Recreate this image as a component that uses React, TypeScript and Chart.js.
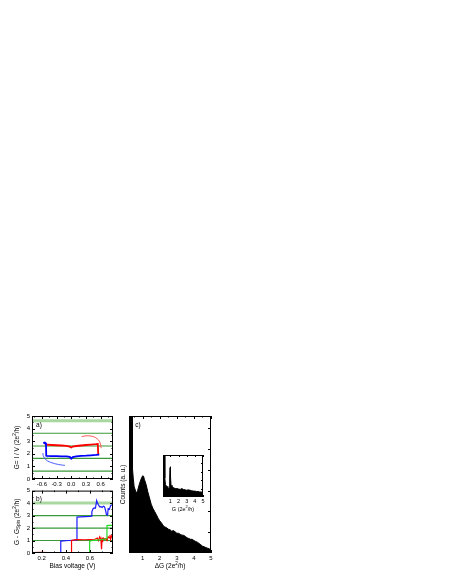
import React, { useEffect, useRef } from "react";
import { Chart, registerables } from "chart.js";
Chart.register(...registerables);

const FONT = "'Liberation Sans', Arial, Helvetica, sans-serif";

// ---------- Panel a ----------
const aXTicks = [-0.6, -0.3, 0, 0.3, 0.6];
const aXMinor = [-0.75, -0.45, -0.15, 0.15, 0.45, 0.75];
const aYTicks = [0, 1, 2, 3, 4, 5];
const aYMinor = [0.5, 1.5, 2.5, 3.5, 4.5];
const aGreenLevels = [0.63, 1.64, 2.62, 3.63];
const aGreenLight = [4.63];
const aRedX = [-0.54, -0.5, -0.4, -0.3, -0.2, -0.1, -0.03, 0.0, 0.03, 0.1, 0.2, 0.3, 0.4, 0.5, 0.54, 0.55];
const aRedY = [2.78, 2.72, 2.7, 2.68, 2.66, 2.63, 2.57, 2.5, 2.58, 2.62, 2.66, 2.7, 2.73, 2.76, 2.78, 1.9];
const aRedArcX = [0.21, 0.28, 0.36, 0.44, 0.5, 0.55, 0.58, 0.6, 0.61];
const aRedArcY = [3.36, 3.42, 3.43, 3.38, 3.28, 3.12, 2.95, 2.7, 2.45];
const aBlueX = [-0.57, -0.54, -0.515, -0.51, -0.5, -0.4, -0.3, -0.2, -0.1, -0.03, 0.0, 0.03, 0.1, 0.2, 0.3, 0.4, 0.5, 0.57];
const aBlueY = [2.85, 2.9, 2.82, 1.85, 1.83, 1.82, 1.81, 1.8, 1.8, 1.76, 1.62, 1.74, 1.8, 1.83, 1.85, 1.88, 1.91, 1.94];
const aBlueArcX = [-0.58, -0.57, -0.54, -0.49, -0.42, -0.34, -0.26, -0.18, -0.13];
const aBlueArcY = [2.05, 1.85, 1.62, 1.45, 1.32, 1.22, 1.15, 1.1, 1.08];

// ---------- Panel b ----------
const bXTicks = [0.2, 0.4, 0.6];
const bXMinor = [0.3, 0.5, 0.7];
const bGreenLevels = [1, 2, 3];
const bGreenLight = [4];
const bBlueX = [0.12, 0.2, 0.3, 0.355, 0.358, 0.38, 0.42, 0.46, 0.49, 0.492, 0.52, 0.56, 0.6, 0.61, 0.615, 0.625, 0.635, 0.645, 0.655, 0.66, 0.67, 0.68, 0.69, 0.7, 0.71, 0.72, 0.73, 0.735, 0.745, 0.75, 0.76, 0.77, 0.78, 0.79];
const bBlueY = [0.02, 0.02, 0.03, 0.03, 0.95, 0.97, 1.0, 1.02, 1.03, 2.88, 2.9, 2.92, 2.93, 2.95, 3.3, 3.55, 3.62, 3.6, 4.2, 4.05, 3.85, 3.7, 3.72, 3.65, 3.75, 3.7, 3.35, 3.1, 3.05, 3.55, 3.5, 3.8, 3.85, 3.9];
const bRedX = [0.12, 0.2, 0.3, 0.4, 0.445, 0.447, 0.47, 0.5, 0.55, 0.6, 0.64, 0.66, 0.67, 0.68, 0.69, 0.695, 0.7, 0.705, 0.71, 0.72, 0.73, 0.74, 0.75, 0.76, 0.765, 0.77, 0.78, 0.79];
const bRedY = [0.03, 0.05, 0.02, 0.04, 0.03, 1.0, 1.05, 1.07, 1.06, 1.08, 1.1, 1.2, 1.0, 1.3, 1.1, 0.3, 1.15, 1.05, 1.2, 1.1, 1.15, 1.0, 1.3, 1.2, 1.45, 1.1, 1.4, 1.2];
const bGreenX = [0.12, 0.3, 0.5, 0.595, 0.597, 0.62, 0.65, 0.68, 0.7, 0.72, 0.738, 0.74, 0.76, 0.79];
const bGreenY = [0.0, 0.0, 0.01, 0.01, 0.95, 1.0, 1.03, 1.05, 1.08, 1.12, 1.15, 2.2, 2.22, 2.22];

// ---------- Panel c (histogram) ----------
const cXTicks = [1, 2, 3, 4, 5];
const cXMinor = [0.5, 1.5, 2.5, 3.5, 4.5];
const cYTicks = [1, 2, 3, 4, 5, 6];
const cHistX = [0.2, 0.3, 0.38, 0.4, 0.45, 0.5, 0.6, 0.65, 0.7, 0.8, 0.9, 1.0, 1.05, 1.1, 1.2, 1.3, 1.4, 1.5, 1.6, 1.7, 1.8, 1.9, 2.0, 2.1, 2.2, 2.3, 2.4, 2.5, 2.6, 2.7, 2.8, 2.9, 3.0, 3.1, 3.2, 3.3, 3.4, 3.5, 3.6, 3.7, 3.8, 3.9, 4.0, 4.1, 4.2, 4.3, 4.4, 4.5, 4.6, 4.7, 4.8, 4.9, 5.0];
const cHistY = [9, 9, 9, 4.1, 3.6, 3.2, 2.95, 2.9, 3.0, 3.3, 3.55, 3.72, 3.7, 3.55, 3.3, 2.95, 2.65, 2.35, 2.15, 2.0, 1.85, 1.68, 1.55, 1.45, 1.32, 1.25, 1.22, 1.15, 1.12, 1.05, 1.08, 1.02, 0.95, 0.95, 0.9, 0.86, 0.85, 0.8, 0.73, 0.7, 0.66, 0.66, 0.6, 0.56, 0.52, 0.46, 0.4, 0.33, 0.3, 0.26, 0.23, 0.2, 0.13];

// ---------- Inset ----------
const dXTicks = [1, 2, 3, 4, 5];
const dXMinor = [0.5, 1.5, 2.5, 3.5, 4.5];
const dYTicks = [0.2, 0.4, 0.6, 0.8];
const dHistX = [0.1, 0.3, 0.32, 0.4, 0.5, 0.6, 0.7, 0.8, 0.88, 0.92, 0.97, 1.0, 1.03, 1.08, 1.2, 1.4, 1.6, 1.8, 2.0, 2.2, 2.4, 2.6, 2.8, 3.0, 3.2, 3.4, 3.6, 3.8, 4.0, 4.2, 4.4, 4.6, 4.8, 5.0];
const dHistY = [1.2, 1.2, 0.45, 0.3, 0.27, 0.25, 0.22, 0.2, 0.22, 0.45, 0.7, 0.72, 0.5, 0.28, 0.25, 0.22, 0.2, 0.2, 0.19, 0.18, 0.2, 0.18, 0.17, 0.16, 0.17, 0.16, 0.15, 0.14, 0.14, 0.13, 0.13, 0.12, 0.12, 0.11];

// ---------- Texts ----------
type Part = { t: string; s?: "sup" | "sub" };
const aYTitle: Part[] = [{ t: "G= I / V (2e" }, { t: "2", s: "sup" }, { t: "/h)" }];
const bYTitle: Part[] = [{ t: "G - G" }, { t: "Spin", s: "sub" }, { t: " (2e" }, { t: "2", s: "sup" }, { t: "/h)" }];
const bXTitle: Part[] = [{ t: "Bias voltage (V)" }];
const cXTitle: Part[] = [{ t: "\u0394G (2e" }, { t: "2", s: "sup" }, { t: "/h)" }];
const cYTitle: Part[] = [{ t: "Counts (a. u.)" }];
const dXTitle: Part[] = [{ t: "G (2e" }, { t: "2", s: "sup" }, { t: "/h)" }];

const GREEN = "#3a9a3a";
const GREEN_LIGHT = "#a8d8a0";

const zip = (xs: number[], ys: number[]) => xs.map((x, i) => ({ x, y: ys[i] }));

function drawRich(ctx: CanvasRenderingContext2D, parts: Part[], cx: number, cy: number, size: number, rot: number) {
  const fontFor = (p: Part) => `${p.s ? size * 0.7 : size}px ${FONT}`;
  let total = 0;
  const widths = parts.map((p) => {
    ctx.font = fontFor(p);
    const w = ctx.measureText(p.t).width;
    total += w;
    return w;
  });
  ctx.save();
  ctx.translate(cx, cy);
  ctx.rotate(rot);
  ctx.fillStyle = "#000";
  ctx.textBaseline = "middle";
  ctx.textAlign = "left";
  let x = -total / 2;
  parts.forEach((p, i) => {
    ctx.font = fontFor(p);
    const dy = p.s === "sup" ? -size * 0.35 : p.s === "sub" ? size * 0.3 : 0;
    ctx.fillText(p.t, x, dy);
    x += widths[i];
  });
  ctx.restore();
}

type TextSpec = { parts: Part[]; dx: (a: any) => number; dy: (a: any) => number; size: number; rot?: number };
type Decor = {
  xMajor: number[]; xMinor: number[]; yMajor: number[]; yMinor: number[];
  texts: TextSpec[]; whiteBg?: boolean; majorLen?: number;
};

function decorPlugin(o: Decor) {
  return {
    id: "decor",
    beforeDatasetsDraw(chart: any) {
      if (!o.whiteBg) return;
      const a = chart.chartArea;
      const ctx = chart.ctx;
      ctx.save();
      ctx.fillStyle = "#fff";
      ctx.fillRect(a.left, a.top, a.right - a.left, a.bottom - a.top);
      ctx.restore();
    },
    afterDraw(chart: any) {
      const { ctx, chartArea: a, scales } = chart;
      const xs = scales.x, ys = scales.y;
      const ML = o.majorLen ?? 3;
      ctx.save();
      ctx.strokeStyle = "#000";
      ctx.lineWidth = 1;
      ctx.beginPath();
      const xt = (vals: number[], len: number) => {
        for (const v of vals) {
          const px = Math.round(xs.getPixelForValue(v)) + 0.5;
          ctx.moveTo(px, a.bottom); ctx.lineTo(px, a.bottom - len);
          ctx.moveTo(px, a.top); ctx.lineTo(px, a.top + len);
        }
      };
      const yt = (vals: number[], len: number) => {
        for (const v of vals) {
          const py = Math.round(ys.getPixelForValue(v)) + 0.5;
          ctx.moveTo(a.left, py); ctx.lineTo(a.left + len, py);
          ctx.moveTo(a.right, py); ctx.lineTo(a.right - len, py);
        }
      };
      xt(o.xMajor, ML); xt(o.xMinor, ML / 2);
      yt(o.yMajor, ML); yt(o.yMinor, ML / 2);
      ctx.stroke();
      ctx.strokeRect(a.left + 0.5, a.top + 0.5, a.right - a.left - 1, a.bottom - a.top - 1);
      ctx.restore();
      for (const t of o.texts) drawRich(ctx, t.parts, t.dx(a), t.dy(a), t.size, t.rot ?? 0);
    },
  };
}

function axis(pos: "x" | "y", min: number, max: number, ticks: number[], fmt: (v: number) => string, size: number, show: boolean, fontSize: number) {
  return {
    type: "linear",
    position: pos === "x" ? "bottom" : "left",
    min, max,
    grid: { display: false, drawTicks: false },
    border: { display: false },
    afterBuildTicks: (s: any) => { s.ticks = ticks.map((v) => ({ value: v })); },
    afterFit: (s: any) => { if (pos === "x") s.height = size; else s.width = size; },
    ticks: {
      display: show,
      padding: pos === "x" ? 1.5 : 2,
      autoSkip: false,
      maxRotation: 0,
      color: "#000",
      font: { family: FONT, size: fontSize },
      callback: (v: any) => fmt(Number(v)),
    },
  };
}

const hline = (v: number, min: number, max: number, color: string, w: number) => ({
  data: [{ x: min, y: v }, { x: max, y: v }],
  borderColor: color, borderWidth: w, pointRadius: 0, order: 10, fill: false,
});
const curve = (xs: number[], ys: number[], color: string, w: number) => ({
  data: zip(xs, ys), borderColor: color, borderWidth: w, pointRadius: 0, order: 1, fill: false, tension: 0,
});

const baseOpts = (padding: any, scales: any) => ({
  responsive: false,
  animation: false,
  events: [],
  layout: { padding, autoPadding: false },
  plugins: { legend: { display: false }, tooltip: { enabled: false } },
  scales,
});

function makeA() {
  const min = -0.8, max = 0.85;
  return {
    type: "line",
    data: {
      datasets: [
        ...aGreenLevels.map((v) => hline(v, min, max, GREEN, 1.2)),
        ...aGreenLight.map((v) => hline(v, min, max, GREEN_LIGHT, 3)),
        curve(aRedArcX, aRedArcY, "#ff5a5a", 1),
        curve(aBlueArcX, aBlueArcY, "#4a5cff", 1),
        curve(aBlueX, aBlueY, "#0000ff", 1.8),
        curve(aRedX, aRedY, "#ff0000", 1.8),
      ],
    },
    options: baseOpts({ top: 16, right: 7, left: 0, bottom: 0 }, {
      x: axis("x", min, max, aXTicks, (v) => v.toFixed(1), 11, true, 6),
      y: axis("y", 0, 5, aYTicks, (v) => String(v), 32, true, 6),
    }),
    plugins: [decorPlugin({
      xMajor: aXTicks, xMinor: aXMinor, yMajor: aYTicks, yMinor: aYMinor,
      texts: [
        { parts: aYTitle, dx: (a) => a.left - 15, dy: (a) => (a.top + a.bottom) / 2, size: 6.5, rot: -Math.PI / 2 },
        { parts: [{ t: "a)" }], dx: (a) => a.left + 7, dy: (a) => a.top + 9, size: 6.5 },
      ],
    })],
  };
}

function makeB() {
  const min = 0.12, max = 0.79;
  return {
    type: "line",
    data: {
      datasets: [
        ...bGreenLevels.map((v) => hline(v, min, max, GREEN, 1.2)),
        ...bGreenLight.map((v) => hline(v, min, max, GREEN_LIGHT, 3)),
        curve(bGreenX, bGreenY, "#22dd22", 1.2),
        curve(bRedX, bRedY, "#ff0000", 1.2),
        curve(bBlueX, bBlueY, "#1a1aff", 1.2),
      ],
    },
    options: baseOpts({ top: 5, right: 7, left: 0, bottom: 0 }, {
      x: axis("x", min, max, bXTicks, (v) => v.toFixed(1), 22, true, 6),
      y: axis("y", 0, 5, aYTicks, (v) => String(v), 32, true, 6),
    }),
    plugins: [decorPlugin({
      xMajor: bXTicks, xMinor: bXMinor, yMajor: aYTicks, yMinor: aYMinor,
      texts: [
        { parts: bYTitle, dx: (a) => a.left - 15, dy: (a) => (a.top + a.bottom) / 2, size: 6.5, rot: -Math.PI / 2 },
        { parts: bXTitle, dx: (a) => (a.left + a.right) / 2, dy: (a) => a.bottom + 13, size: 6.5 },
        { parts: [{ t: "b)" }], dx: (a) => a.left + 7, dy: (a) => a.top + 9, size: 6.5 },
      ],
    })],
  };
}

function makeC() {
  return {
    type: "line",
    data: {
      datasets: [{
        data: zip(cHistX, cHistY), borderColor: "#000", backgroundColor: "#000",
        borderWidth: 1, pointRadius: 0, fill: "origin", tension: 0,
      }],
    },
    options: baseOpts({ top: 16, right: 7, left: 0, bottom: 0 }, {
      x: axis("x", 0.2, 5, cXTicks, (v) => String(v), 22, true, 6),
      y: axis("y", 0, 6.6, cYTicks, (v) => String(v), 11, false, 6),
    }),
    plugins: [decorPlugin({
      xMajor: cXTicks, xMinor: cXMinor, yMajor: cYTicks, yMinor: [],
      texts: [
        { parts: cYTitle, dx: (a) => a.left - 6, dy: (a) => (a.top + a.bottom) / 2, size: 6.5, rot: -Math.PI / 2 },
        { parts: cXTitle, dx: (a) => (a.left + a.right) / 2, dy: (a) => a.bottom + 13, size: 6.5 },
        { parts: [{ t: "c)" }], dx: (a) => a.left + 9, dy: (a) => a.top + 9, size: 6.5 },
      ],
    })],
  };
}

function makeD() {
  return {
    type: "line",
    data: {
      datasets: [{
        data: zip(dHistX, dHistY), borderColor: "#000", backgroundColor: "#000",
        borderWidth: 1, pointRadius: 0, fill: "origin", tension: 0,
      }],
    },
    options: baseOpts({ top: 5, right: 7, left: 0, bottom: 0 }, {
      x: axis("x", 0.1, 5, dXTicks, (v) => String(v), 18, true, 5.5),
      y: axis("y", 0, 1, dYTicks, (v) => String(v), 8, false, 5.5),
    }),
    plugins: [decorPlugin({
      xMajor: dXTicks, xMinor: dXMinor, yMajor: dYTicks, yMinor: [], majorLen: 2,
      whiteBg: true,
      texts: [
        { parts: dXTitle, dx: (a) => (a.left + a.right) / 2, dy: (a) => a.bottom + 12, size: 5.5 },
      ],
    })],
  };
}

function ChartCanvas({ left, top, width, height, make }: { left: number; top: number; width: number; height: number; make: () => any }) {
  const ref = useRef<HTMLCanvasElement>(null);
  useEffect(() => {
    const chart = new Chart(ref.current as HTMLCanvasElement, make());
    return () => chart.destroy();
  }, []);
  return (
    <canvas
      ref={ref}
      width={width}
      height={height}
      style={{ position: "fixed", left, top, width, height, display: "block" }}
    />
  );
}

export default function App() {
  return (
    <div style={{ position: "relative", width: 434, height: 566 }}>
      <ChartCanvas left={0} top={400} width={120} height={90} make={makeA} />
      <ChartCanvas left={0} top={485} width={120} height={90} make={makeB} />
      <ChartCanvas left={118} top={400} width={100} height={175} make={makeC} />
      <ChartCanvas left={155} top={450} width={55} height={65} make={makeD} />
    </div>
  );
}
